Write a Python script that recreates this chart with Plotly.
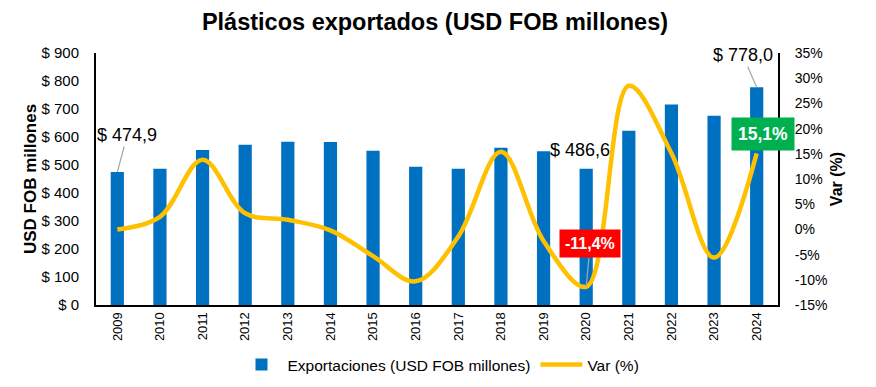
import plotly.graph_objects as go

years = [str(y) for y in range(2009, 2025)]
exports = [474.9, 487, 554, 572, 583, 582, 551, 494, 487, 562, 549, 486.6, 622, 716, 676, 778.0]
var_pct = [0.0, 2.5, 13.8, 3.2, 1.9, -0.2, -5.3, -10.3, -1.4, 15.4, -2.3, -11.4, 28.5, 15.1, -5.6, 15.1]

left_ticks = [0, 100, 200, 300, 400, 500, 600, 700, 800, 900]
left_ticktext = ["$ " + str(v) for v in left_ticks]
right_ticks = [-15, -10, -5, 0, 5, 10, 15, 20, 25, 30, 35]
right_ticktext = [str(v) + "%" for v in right_ticks]

xpos = list(range(len(years)))

BLUE = "#0070C0"
GOLD = "#FFC000"
FONT = "Liberation Sans, Arial, sans-serif"

fig = go.Figure()
fig.add_trace(go.Bar(
    x=xpos, y=exports, name="Exportaciones (USD FOB millones)",
    marker=dict(color=BLUE, line=dict(width=0)), yaxis="y", width=0.31,
))
fig.add_trace(go.Scatter(
    x=xpos, y=var_pct, name="Var (%)", mode="lines",
    line=dict(color=GOLD, width=4.5, shape="spline", smoothing=1.0), yaxis="y2",
))

annos = []
annos.append(dict(x=xpos[0], y=exports[0], yref="y", xref="x", text="$ 474,9",
                  showarrow=True, arrowhead=0, arrowcolor="#A6A6A6", arrowwidth=1.2,
                  ax=10, ay=-37, font=dict(size=18, color="#000", family=FONT)))
annos.append(dict(x=xpos[15], y=exports[15], yref="y", xref="x", text="$ 778,0",
                  showarrow=True, arrowhead=0, arrowcolor="#A6A6A6", arrowwidth=1.2,
                  ax=-14, ay=-32, font=dict(size=18, color="#000", family=FONT)))
annos.append(dict(x=xpos[11], y=exports[11], yref="y", xref="x", text="$ 486,6",
                  showarrow=False, xshift=-6, yshift=19,
                  font=dict(size=18, color="#000", family=FONT)))
annos.append(dict(x=xpos[11], y=var_pct[11], yref="y2", xref="x", text="<b>-11,4%</b>",
                  showarrow=True, arrowhead=0, arrowcolor="#A6A6A6", arrowwidth=1.2,
                  ax=4, ay=-43, bgcolor="#FF0000", borderpad=5,
                  font=dict(size=16, color="#FFFFFF", family=FONT)))
annos.append(dict(x=xpos[15], y=var_pct[15], yref="y2", xref="x", text="<b>15,1%</b>",
                  showarrow=False, xshift=6, yshift=19, bgcolor="#00B050", borderpad=6,
                  font=dict(size=17.5, color="#FFFFFF", family=FONT)))

fig.update_layout(
    width=876, height=387,
    margin=dict(l=88, r=106, t=45, b=90, autoexpand=False),
    paper_bgcolor="white", plot_bgcolor="white",
    font=dict(family=FONT, color="#000"),
    title=dict(text="<b>Plásticos exportados (USD FOB millones)</b>", x=427 / 876, xanchor="center",
               xref="container", y=1 - 14 / 387, yref="container", yanchor="middle",
               font=dict(size=23.5, family=FONT, color="#000")),
    showlegend=True,
    legend=dict(orientation="h", x=(440 - 8 - 88) / 682, xanchor="center", y=-0.238, yanchor="middle",
                font=dict(size=15.5, family=FONT), itemwidth=42, traceorder="normal"),
    xaxis=dict(range=[-0.5, 15.5], tickvals=xpos, ticktext=years, tickangle=-90,
               tickfont=dict(size=13), showline=True, linecolor="#000", linewidth=2,
               ticks="", showgrid=False, zeroline=False, automargin=False),
    yaxis=dict(range=[0, 900], tickvals=left_ticks, ticktext=left_ticktext,
               tickfont=dict(size=15), showline=True, linecolor="#000", linewidth=2,
               showgrid=False, zeroline=False, ticks="", automargin=False,
               ticklabelstandoff=12,
               title=dict(text="<b>USD FOB millones</b>", font=dict(size=17), standoff=1)),
    yaxis2=dict(range=[-15, 35], tickvals=right_ticks, ticktext=right_ticktext,
                overlaying="y", side="right", tickfont=dict(size=14),
                showline=True, linecolor="#000", linewidth=2, showgrid=False,
                zeroline=False, ticks="", automargin=False, ticklabelstandoff=12,
                title=dict(text="<b>Var (%)</b>", font=dict(size=16), standoff=4)),
    annotations=annos,
)

fig.write_html("out.html")
